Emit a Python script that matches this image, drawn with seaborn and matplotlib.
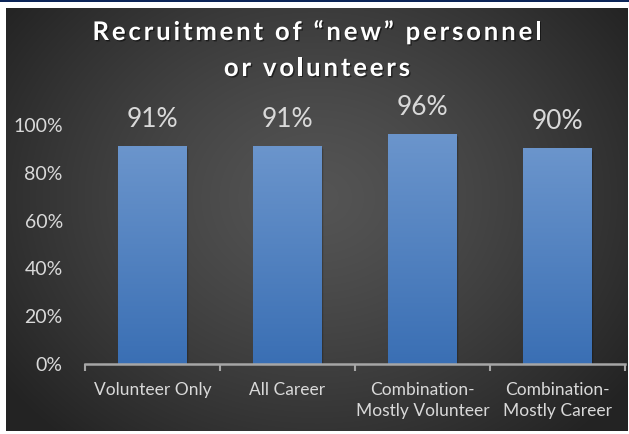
import numpy as np
import pandas as pd
import matplotlib
matplotlib.use("Agg")
import matplotlib.pyplot as plt
import seaborn as sns
from matplotlib.patches import Rectangle
from matplotlib.ticker import PercentFormatter, FixedLocator
from matplotlib.font_manager import FontProperties
import matplotlib.patheffects as pe

categories = ["Volunteer Only", "All Career",
              "Combination-\nMostly Volunteer", "Combination-\nMostly Career"]
shares = [0.91, 0.91, 0.96, 0.90]
y_ticks = [0.0, 0.2, 0.4, 0.6, 0.8, 1.0]
title_lines = ["Recruitment of \u201cnew\u201d personnel", "or volunteers"]

sns.set_theme(style="white")
plt.rcParams["font.family"] = ["Lato", "DejaVu Sans"]

W, H = 629, 434
fig = plt.figure(figsize=(W / 100, H / 100), dpi=100)
fig.patch.set_facecolor("white")

# thin navy rule along the top edge
fig.add_artist(Rectangle((0, (H - 2) / H), 1, 2 / H, transform=fig.transFigure,
                         facecolor="#0b2458", edgecolor="none"))

# dark panel with a radial glow
bg = fig.add_axes([6 / W, 3 / H, 622 / W, 423 / H], zorder=0)
ny, nx = 300, 440
yy, xx = np.mgrid[0:1:ny * 1j, 0:1:nx * 1j]
r = np.sqrt(((xx - 0.5) / 0.62) ** 2 + ((yy - 0.55) / 0.75) ** 2)
r = np.clip(r, 0, 1)
level = 0.33 - 0.19 * r ** 1.3
bg.imshow(np.dstack([level, level, level]), extent=[0, 1, 0, 1],
          aspect="auto", origin="lower", interpolation="bicubic")
bg.axis("off")

ax = fig.add_axes([85 / W, 70 / H, 540 / W, 239 / H], zorder=1)
ax.patch.set_alpha(0)

df = pd.DataFrame({"category": categories, "share": shares})
sns.barplot(data=df, x="category", y="share", ax=ax, width=0.51,
            color="#4a7dbf", saturation=1, errorbar=None)

# vertical blue gradient on each bar, with a soft drop shadow
top_c = np.array([0x6b, 0x95, 0xcc]) / 255
bot_c = np.array([0x3a, 0x6f, 0xb4]) / 255
grad = np.linspace(0, 1, 256)[:, None, None]
grad_img = bot_c * (1 - grad) + top_c * grad
for p in ax.patches:
    x0, y0 = p.get_x(), p.get_y()
    w, h = p.get_width(), p.get_height()
    for k, a in [(0.030, 0.05), (0.020, 0.07), (0.010, 0.09)]:
        ax.add_patch(Rectangle((x0 + k * 0.5, y0), w, h - k * 0.4,
                               facecolor="black", alpha=a, edgecolor="none",
                               zorder=1.5))
    ax.imshow(grad_img, extent=[x0, x0 + w, y0, y0 + h], origin="lower",
              aspect="auto", zorder=2, interpolation="bilinear")
    p.set_visible(False)
ax.set_xlim(-0.5, len(categories) - 0.5)
ax.set_ylim(0, 1.0)

# value labels above the bars
for i, v in enumerate(shares):
    ax.annotate(f"{v:.0%}", (i, v), xytext=(0, 20), textcoords="offset pixels",
                ha="center", va="baseline", color="#d9d9d9", fontsize=19,
                annotation_clip=False)

ax.yaxis.set_major_locator(FixedLocator(y_ticks))
ax.yaxis.set_major_formatter(PercentFormatter(1.0, decimals=0))
ax.tick_params(axis="y", length=0, pad=16, labelsize=14, labelcolor="#d9d9d9")
ax.tick_params(axis="x", length=0, pad=13, labelsize=12.5, labelcolor="#d9d9d9")
for lbl in ax.get_xticklabels():
    lbl.set_linespacing(1.35)
ax.xaxis.set_minor_locator(FixedLocator(np.arange(-0.5, len(categories), 1.0)))
ax.tick_params(axis="x", which="minor", length=5, width=1.5, color="#a6a6a6",
               direction="out", bottom=True)
ax.set_xlabel("")
ax.set_ylabel("")
for s in ["top", "right", "left"]:
    ax.spines[s].set_visible(False)
ax.spines["bottom"].set_color("#a6a6a6")
ax.spines["bottom"].set_linewidth(1.8)
ax.spines["bottom"].set_zorder(3)
ax.grid(False)


def spaced_text(fig, s, xc, yc, spacing_px, **kw):
    """Draw a string with extra letter spacing, centred on (xc, yc) in pixels."""
    renderer = fig.canvas.get_renderer()
    fp = FontProperties(family=plt.rcParams["font.family"], weight=kw.get("weight", "normal"),
                        size=kw.get("size", 12))

    def width(t):
        if not t:
            return 0.0
        w, _, _ = renderer.get_text_width_height_descent(t, fp, ismath=False)
        return w

    total = width(s) + spacing_px * (len(s) - 1)
    start = xc - total / 2
    for i, ch in enumerate(s):
        x = start + width(s[:i]) + spacing_px * i
        fig.text(x / W, 1 - yc / H, ch, ha="left", va="center",
                 fontproperties=fp, color=kw.get("color", "white"),
                 path_effects=[pe.withSimplePatchShadow(offset=(1, -1), alpha=0.5,
                                                        shadow_rgbFace="black")])


fig.canvas.draw()
spaced_text(fig, title_lines[0], 317, 32, 2.8, weight="bold", size=18.5, color="white")
spaced_text(fig, title_lines[1], 317, 68, 2.8, weight="bold", size=18.5, color="white")

fig.savefig("out.png", dpi=100, facecolor=fig.get_facecolor())
